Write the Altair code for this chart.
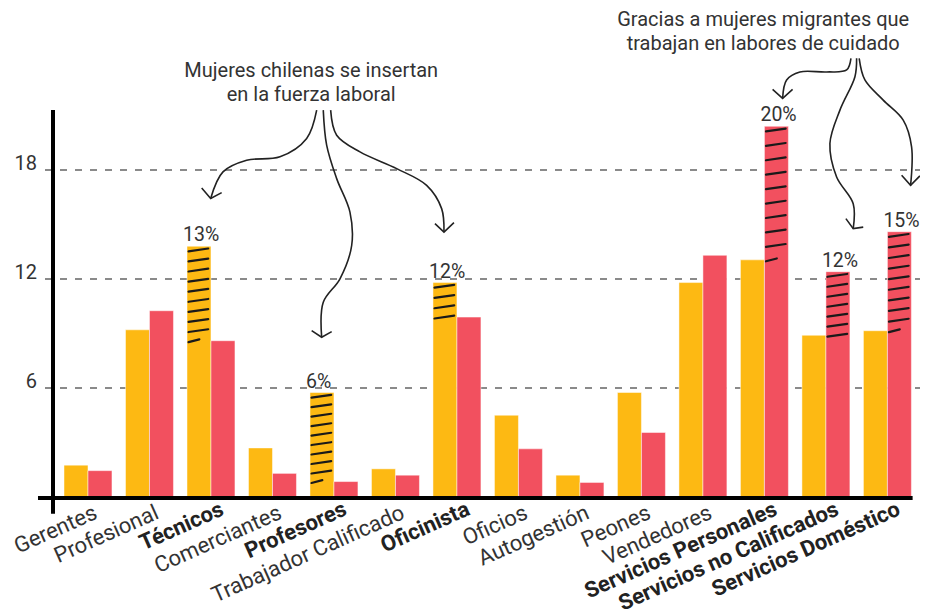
import altair as alt
import pandas as pd

# ---------------- data ----------------
categories = ["Gerentes", "Profesional", "Técnicos", "Comerciantes", "Profesores",
              "Trabajador Calificado", "Oficinista", "Oficios", "Autogestión", "Peones",
              "Vendedores", "Servicios Personales", "Servicios no Calificados",
              "Servicios Doméstico"]
yellow_vals = [1.75, 9.2, 13.8, 2.7, 5.75, 1.55, 11.8, 4.5, 1.2, 5.75, 11.8, 13.05, 8.9, 9.15]
red_vals = [1.45, 10.25, 8.6, 1.3, 0.85, 1.2, 9.9, 2.65, 0.8, 3.55, 13.3, 20.4, 12.4, 14.6]
bold_labels = ["Técnicos", "Profesores", "Oficinista", "Servicios Personales",
               "Servicios no Calificados", "Servicios Doméstico"]

highlight_cat = ["Técnicos", "Profesores", "Oficinista", "Servicios Personales",
                 "Servicios no Calificados", "Servicios Doméstico"]
highlight_series = ["yellow", "yellow", "yellow", "red", "red", "red"]
highlight_text = ["13%", "6%", "12%", "20%", "12%", "15%"]
hatch_count = [10, 10, 4, 10, 7, 10]
hatch_short_last = [True, True, False, True, False, True]

y_ticks = [6, 12, 18]

# annotation texts (anchor in category-index / value units)
annot_text = ["Mujeres chilenas se insertan\nen la fuerza laboral",
              "Gracias a mujeres migrantes que\ntrabajan en labores de cuidado"]
annot_x = [3.63, 10.98]
annot_y = [23.1, 25.92]

# annotation arrows (category-index / value units)
arrow_paths = {
    "a1": [(3.719, 21.29), (3.556, 19.73), (3.122, 18.72), (2.580, 18.53), (2.195, 17.89), (1.995, 16.43)],
    "a2": [(3.826, 21.29), (3.881, 19.36), (4.044, 17.52), (4.260, 15.68), (4.288, 13.84),
           (4.098, 12.01), (3.826, 10.72), (3.800, 8.79)],
    "a3": [(3.946, 21.29), (4.044, 19.91), (4.423, 18.99), (5.020, 18.07), (5.507, 17.15),
           (5.751, 15.87), (5.789, 14.58)],
    "b1": [(12.407, 24.14), (12.337, 23.50), (12.012, 23.39), (11.577, 23.39), (11.361, 22.95), (11.296, 21.94)],
    "b2": [(12.499, 24.14), (12.472, 23.13), (12.228, 21.29), (12.065, 19.45), (12.174, 17.61),
           (12.444, 16.14), (12.444, 14.77)],
    "b3": [(12.541, 24.14), (12.634, 22.95), (12.932, 21.84), (13.257, 20.74), (13.393, 19.27), (13.377, 17.15)],
}
arrow_heads = {
    "a1": [(1.849, 17.00), (1.995, 16.43), (2.174, 16.75)],
    "a2": [(3.637, 9.16), (3.800, 8.79), (3.963, 9.10)],
    "a3": [(5.642, 15.04), (5.789, 14.58), (5.951, 15.10)],
    "b1": [(11.133, 22.43), (11.296, 21.94), (11.458, 22.43)],
    "b2": [(12.325, 15.32), (12.444, 14.77), (12.607, 14.85)],
    "b3": [(13.231, 17.71), (13.377, 17.15), (13.528, 17.67)],
}

# hand-drawn style axis lines (category-index / value units)
axis_lines = {"x": [-0.569, -0.813], "x2": [-0.569, 13.41], "y": [-0.92, -0.05], "y2": [21.29, -0.05]}

# ---------------- layout constants ----------------
YELLOW = "#FDB913"
RED = "#F2505F"
TEXT = "#333333"
GRID = "#8a8a8a"
FONT = "Roboto"
W, H = 867, 489
X_DOM = [-0.569, 13.53]
Y_DOM = [0, 26.91]
PX_PER_UNIT = H / (Y_DOM[1] - Y_DOM[0])
PX_PER_CAT = W / (X_DOM[1] - X_DOM[0])
BW = 0.39

xs = alt.Scale(domain=X_DOM, nice=False, zero=False)
ys = alt.Scale(domain=Y_DOM, nice=False, zero=False)


def X(f):
    return alt.X(f, scale=xs, axis=None)


def Y(f):
    return alt.Y(f, scale=ys, axis=None)


# ---------------- tables ----------------
bar_rows = []
for i, c in enumerate(categories):
    bar_rows.append({"cat": c, "x0": i - BW, "x1": i, "v": yellow_vals[i], "base": 0, "col": YELLOW})
    bar_rows.append({"cat": c, "x0": i, "x1": i + BW, "v": red_vals[i], "base": 0, "col": RED})
bars_df = pd.DataFrame(bar_rows)

hatch_rows, lab_rows = [], []
for cat, ser, txt, n, short in zip(highlight_cat, highlight_series, highlight_text,
                                   hatch_count, hatch_short_last):
    i = categories.index(cat)
    if ser == "yellow":
        left, top, low = i - BW, yellow_vals[i], red_vals[i]
    else:
        left, top, low = i, red_vals[i], yellow_vals[i]
    xl, xr = left + 0.025, left + BW - 0.045
    first = top - 3.7 / PX_PER_UNIT
    step = (first - low) / (n - 1)
    rise = 2.8 / PX_PER_UNIT
    for k in range(n):
        yc = first - k * step
        xe = xr if not (short and k == n - 1) else xl + (xr - xl) * 0.55
        hatch_rows.append({"x": xl, "x2": xe, "y": yc - rise / 2, "y2": yc + rise / 2})
    lab_rows.append({"x": left, "y": top, "t": txt})
hatch_df = pd.DataFrame(hatch_rows)
lab_df = pd.DataFrame(lab_rows)

arrow_df = pd.DataFrame([{"id": k, "o": j, "x": p[0], "y": p[1]}
                         for k, pts in arrow_paths.items() for j, p in enumerate(pts)])
head_df = pd.DataFrame([{"id": k, "o": j, "x": p[0], "y": p[1]}
                        for k, pts in arrow_heads.items() for j, p in enumerate(pts)])
annot_df = pd.DataFrame({"x": annot_x, "y": annot_y, "t": annot_text})
axis_df = pd.DataFrame(axis_lines)

grid_df = pd.DataFrame({"v": y_ticks, "x": X_DOM[0] - 8 / PX_PER_CAT, "x2": X_DOM[1]})
ytick_df = pd.DataFrame({"v": y_ticks, "x": X_DOM[0], "t": [str(t) for t in y_ticks]})
xlab_df = pd.DataFrame({"i": list(range(len(categories))), "y": 0, "t": categories,
                        "b": [c in bold_labels for c in categories]})

# ---------------- layers ----------------
grid = alt.Chart(grid_df).mark_rule(color=GRID, strokeWidth=2, strokeDash=[7, 8]).encode(
    x=X("x:Q"), x2="x2:Q", y=Y("v:Q"))

ytick_labels = alt.Chart(ytick_df).mark_text(align="right", baseline="alphabetic", dx=-16,
                                             fontSize=20, font=FONT, color=TEXT).encode(
    x=X("x:Q"), y=Y("v:Q"), text="t:N")

xlab_normal = alt.Chart(xlab_df).transform_filter("!datum.b").mark_text(
    align="right", baseline="top", angle=336, dx=4, yOffset=7, fontSize=22, font=FONT,
    color=TEXT, fontWeight="normal").encode(x=X("i:Q"), y=Y("y:Q"), text="t:N")
xlab_bold = alt.Chart(xlab_df).transform_filter("datum.b").mark_text(
    align="right", baseline="top", angle=336, dx=8, yOffset=5, fontSize=22, font=FONT,
    color="#222222", fontWeight="bold").encode(x=X("i:Q"), y=Y("y:Q"), text="t:N")

bars = alt.Chart(bars_df).mark_rect(stroke="white", strokeWidth=0.8, strokeOpacity=0.6).encode(
    x=X("x0:Q"), x2="x1:Q", y=Y("v:Q"), y2="base:Q",
    color=alt.Color("col:N", scale=None),
)

hatch = alt.Chart(hatch_df).mark_rule(color="#1a1a1a", strokeWidth=2.2, strokeCap="round").encode(
    x=X("x:Q"), x2="x2:Q", y=Y("y:Q"), y2="y2:Q")

labels = alt.Chart(lab_df).mark_text(align="left", baseline="alphabetic", dx=-4, dy=-5,
                                     fontSize=19.5, font=FONT, color=TEXT).encode(
    x=X("x:Q"), y=Y("y:Q"), text="t:N")

arrows = alt.Chart(arrow_df).mark_line(interpolate="catmull-rom", color="#222222",
                                       strokeWidth=1.6).encode(
    x=X("x:Q"), y=Y("y:Q"), detail="id:N", order="o:Q")

heads = alt.Chart(head_df).mark_line(color="#222222", strokeWidth=1.6).encode(
    x=X("x:Q"), y=Y("y:Q"), detail="id:N", order="o:Q")

annots = alt.Chart(annot_df).mark_text(align="center", baseline="alphabetic", fontSize=20,
                                       font=FONT, color=TEXT, lineBreak="\n",
                                       lineHeight=24).encode(
    x=X("x:Q"), y=Y("y:Q"), text="t:N")

axes_lines = alt.Chart(axis_df).mark_rule(color="black", strokeWidth=4).encode(
    x=X("x:Q"), x2="x2:Q", y=Y("y:Q"), y2="y2:Q")

chart = alt.layer(grid, ytick_labels, bars, hatch, labels, arrows, heads, annots,
                  xlab_normal, xlab_bold, axes_lines).properties(
    width=W, height=H,
    autosize=alt.AutoSizeParams(type="none"),
    padding={"left": 45, "top": 0, "right": 0, "bottom": 119},
).configure(font=FONT).configure_view(stroke=None)

chart.save("out.html", embed_options={"renderer": "svg", "actions": False})
